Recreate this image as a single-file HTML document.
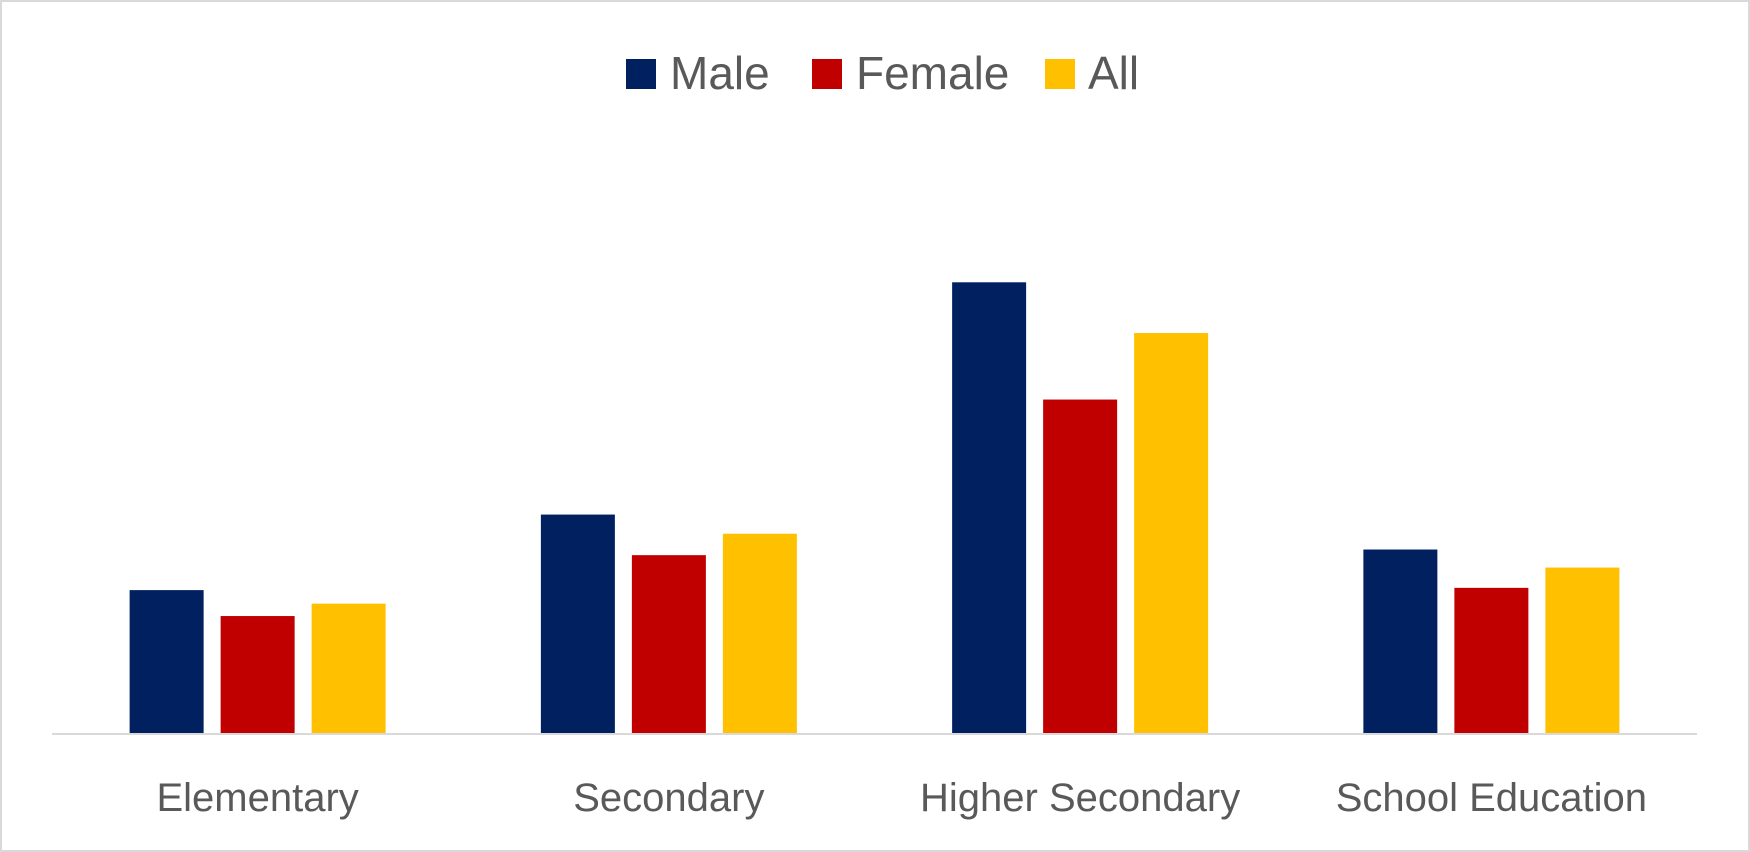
<!DOCTYPE html>
<html><head><meta charset="utf-8"><style>
html,body{margin:0;padding:0;background:#fff}
svg{display:block;font-family:"Liberation Sans",sans-serif}
</style></head><body>
<svg id="chart" width="1750" height="852" viewBox="0 0 1750 852" xmlns="http://www.w3.org/2000/svg">
<rect x="1" y="1" width="1748" height="850" fill="#fff" stroke="#d9d9d9" stroke-width="2"/>
<g>
<g><rect x="626" y="59" width="30" height="30" fill="#002060"/><text x="670" y="89" font-size="46" fill="#595959">Male</text></g>
<g><rect x="812" y="59" width="30" height="30" fill="#c00000"/><text x="856" y="89" font-size="46" fill="#595959">Female</text></g>
<g><rect x="1045" y="59" width="30" height="30" fill="#ffc000"/><text x="1088" y="89" font-size="46" fill="#595959">All</text></g>
</g>
<g id="bars"></g>
<line x1="52" y1="734" x2="1697" y2="734" stroke="#d9d9d9" stroke-width="2"/>
<g id="labels"></g>
</svg>
<script>
const categories=["Elementary","Secondary","Higher Secondary","School Education"];
const male=[6.35,9.7,20.0,8.15];
const female=[5.2,7.9,14.8,6.45];
const all=[5.75,8.85,17.75,7.35];
const seriesNames=["male","female","all"];
const colors=["#002060","#c00000","#ffc000"];
const NS="http://www.w3.org/2000/svg";
const x0=52,plotW=1645,base=733.3,pxPerUnit=22.55;
const bandW=plotW/categories.length;
const barW=74,gap=17;
function y(v){return base-v*pxPerUnit;}
function groupCenter(i){return x0+bandW*(i+0.5);}
const bars=document.getElementById('bars'),labels=document.getElementById('labels');
[male,female,all].forEach((s,si)=>{
  s.forEach((v,i)=>{
    const r=document.createElementNS(NS,'rect');
    const cx=groupCenter(i)+(si-1)*(barW+gap);
    r.setAttribute('x',cx-barW/2);
    r.setAttribute('y',y(v));
    r.setAttribute('width',barW);
    r.setAttribute('height',base-y(v));
    r.setAttribute('fill',colors[si]);
    
    
    bars.appendChild(r);
  });
});
categories.forEach((c,i)=>{
  const t=document.createElementNS(NS,'text');
  t.setAttribute('x',groupCenter(i));
  t.setAttribute('y',811);
  t.setAttribute('text-anchor','middle');
  t.setAttribute('font-size','40');
  t.setAttribute('fill','#595959');
  
  
  t.textContent=c;
  labels.appendChild(t);
});
</script>
</body></html>
